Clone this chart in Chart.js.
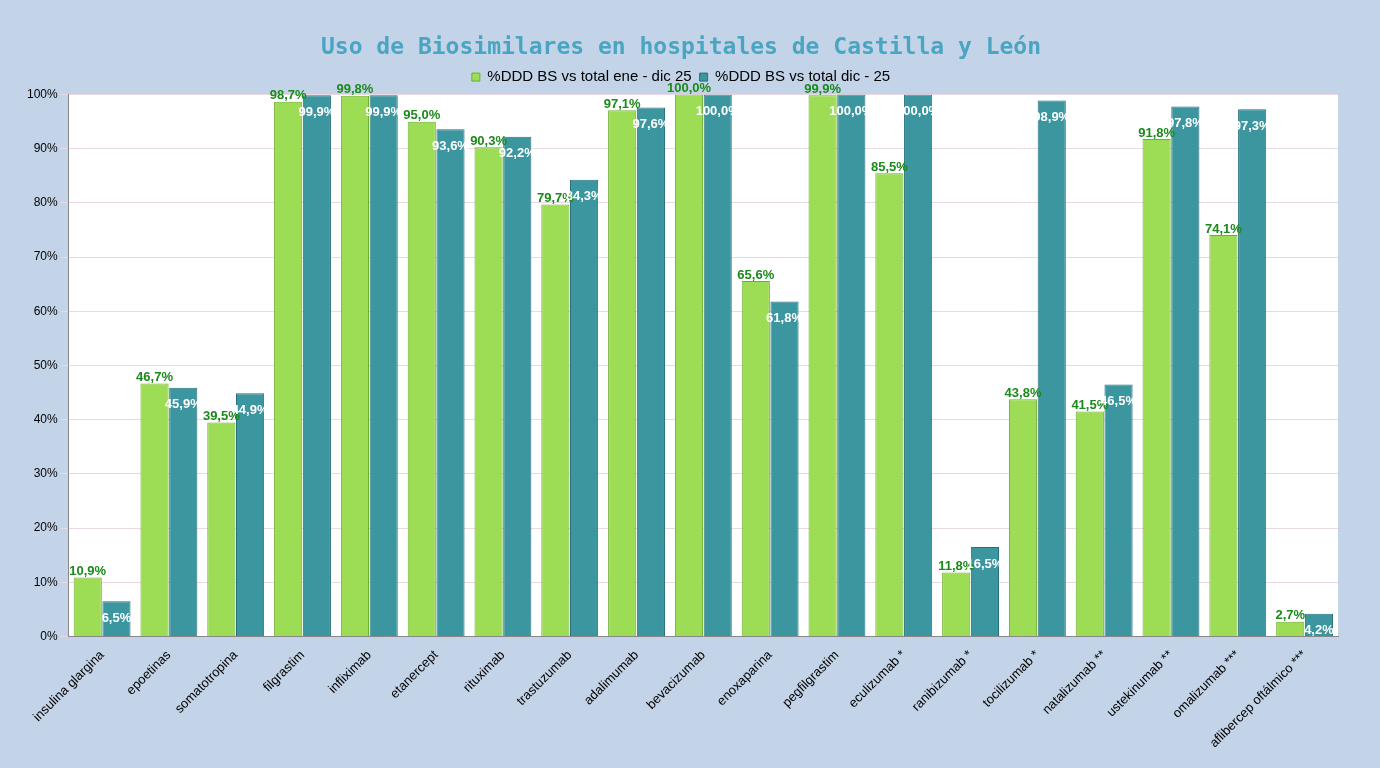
<!DOCTYPE html>
<html><head><meta charset="utf-8">
<script src="https://cdn.jsdelivr.net/npm/chart.js@4/dist/chart.umd.min.js"></script>
<style>html,body{margin:0;background:#c4d4e8;}#wrap{width:1380px;height:768px;}</style>
</head><body><div id="wrap"><canvas id="c"></canvas></div>
<script>
const categorias = ['insulina glargina','epoetinas','somatotropina','filgrastim','infliximab','etanercept','rituximab','trastuzumab','adalimumab','bevacizumab','enoxaparina','pegfilgrastim','eculizumab *','ranibizumab *','tocilizumab *','natalizumab **','ustekinumab **','omalizumab ***','aflibercep oftálmico ***'];
const serieAnual = [10.9,46.7,39.5,98.7,99.8,95.0,90.3,79.7,97.1,100.0,65.6,99.9,85.5,11.8,43.8,41.5,91.8,74.1,2.7];
const serieDic = [6.5,45.9,44.9,99.9,99.9,93.6,92.2,84.3,97.6,100.0,61.8,100.0,100.0,16.5,98.9,46.5,97.8,97.3,4.2];
const etiquetasSerie = ['%DDD BS vs total ene - dic 25','%DDD BS vs total dic - 25'];

const fmt = v => v.toFixed(1).replace('.', ',') + '%';

const fondoArea = {
    id: 'fondoArea',
    beforeDraw(chart) {
        const a = chart.chartArea, ctx = chart.ctx;
        ctx.save();
        ctx.fillStyle = '#ffffff';
        ctx.fillRect(a.left, a.top, a.right - a.left, a.bottom - a.top);
        ctx.restore();
    }
};

const etiquetas = {
    id: 'etiquetas',
    afterDatasetsDraw(chart) {
        const ctx = chart.ctx;
        ctx.save();
        ctx.font = 'bold 13px "Liberation Sans Narrow", "Liberation Sans", sans-serif';
        ctx.textAlign = 'center';
        chart.getDatasetMeta(0).data.forEach((bar, i) => {
            ctx.fillStyle = '#1a8a1a';
            ctx.fillText(fmt(serieAnual[i]), bar.x, bar.y - 6);
        });
        chart.getDatasetMeta(1).data.forEach((bar, i) => {
            ctx.fillStyle = '#ffffff';
            ctx.fillText(fmt(serieDic[i]), bar.x, bar.y + 17);
        });
        ctx.restore();
    }
};

new Chart(document.getElementById('c'), {
    type: 'bar',
    data: {
        labels: categorias,
        datasets: [{
            label: etiquetasSerie[0],
            data: serieAnual,
            backgroundColor: '#9ddc55',
            borderColor: '#6fae2e',
            borderWidth: 1
        }, {
            label: etiquetasSerie[1],
            data: serieDic,
            backgroundColor: '#3c96a0',
            borderColor: '#25707a',
            borderWidth: 1
        }]
    },
    options: {
        responsive: true,
        maintainAspectRatio: false,
        animation: false,
        layout: { padding: { left: 24, right: 42, top: 34, bottom: 14 } },
        datasets: { bar: { barPercentage: 0.98, categoryPercentage: 0.86 } },
        plugins: {
            title: {
                display: true,
                text: 'Uso de Biosimilares en hospitales de Castilla y León',
                color: '#4aa5c3',
                font: { family: '"DejaVu Sans Mono", monospace', size: 23, weight: 'bold' },
                padding: { top: 0, bottom: 0 }
            },
            legend: {
                labels: {
                    color: '#000',
                    boxWidth: 8, boxHeight: 8,
                    font: { family: '"Liberation Sans", sans-serif', size: 15 },
                    padding: 8
                }
            },
            tooltip: { enabled: false }
        },
        scales: {
            x: {
                grid: { display: false },
                border: { color: '#888' },
                ticks: {
                    color: '#000', maxRotation: 45, minRotation: 45,
                    font: { family: '"Liberation Sans", sans-serif', size: 13 }
                }
            },
            y: {
                min: 0, max: 100,
                ticks: {
                    stepSize: 10, color: '#000',
                    callback: v => v + '%',
                    font: { family: '"Liberation Sans", sans-serif', size: 12 }
                },
                grid: { color: '#ead8e4', drawTicks: true },
                border: { color: '#888' }
            }
        }
    },
    plugins: [fondoArea, etiquetas]
});
</script>
</body></html>
